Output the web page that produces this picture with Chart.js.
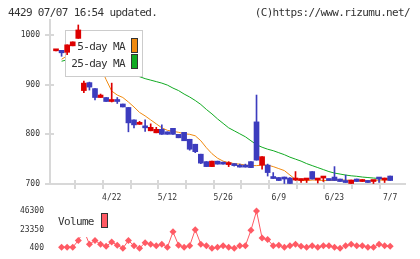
<!DOCTYPE html>
<html lang="ja">
<head>
<meta charset="UTF-8" />
<title>4429 chart</title>
<script src="https://cdn.jsdelivr.net/npm/chart.js@4.4.1/dist/chart.umd.min.js"></script>
<style>
  body { margin:0; background:#fff; font-family:"DejaVu Sans Mono", monospace; color:#333; }
  #wrap { position:relative; width:420px; height:259px; overflow:hidden; }
  #main_chart { position:absolute; left:0; top:0; }
  #vol_chart { position:absolute; left:0; top:200px; }
  .txt { position:absolute; font-size:11px; letter-spacing:-0.65px; white-space:nowrap; line-height:12px; color:#333; }
  .sw { position:absolute; box-sizing:border-box; border:1px solid #333; }
</style>
</head>
<body>
<div id="wrap">
  <canvas id="main_chart" width="420" height="205"></canvas>
  <canvas id="vol_chart" width="420" height="59"></canvas>
  <div class="txt" style="left:8px; top:7px;">4429 07/07 16:54 updated.</div>
  <div class="txt" style="right:10px; top:7px;">(C)https://www.rizumu.net/</div>
  <div class="txt" style="right:295px; top:41px;">5-day MA</div>
  <div class="txt" style="right:295px; top:58px;">25-day MA</div>
  <div class="sw" style="left:131px; top:38px; width:7px; height:15px; background:#f08a10;"></div>
  <div class="sw" style="left:131px; top:54px; width:7px; height:15px; background:#11aa22;"></div>
  <div class="txt" style="left:58px; top:216px;">Volume</div>
  <div class="sw" style="left:101px; top:213px; width:7px; height:15px; background:#ff5a64;"></div>
</div>
<script>
// ---- data ----
const tickIdx = [10, 20, 30, 40, 50, 60];
const tickLabels = ['4/22', '5/12', '5/26', '6/9', '6/23', '7/7'];
const priceTicks = [700, 800, 900, 1000];
const volTicks = [400, 23350, 46300];

const opens = [968, 969, 965, 978, 993, 888, 904, 892, 874, 874,
  866, 868, 861, 854, 829, 820, 815, 807, 803, 810,
  805, 812, 800, 804, 790, 780, 760, 745, 735, 746,
  744, 739, 740, 736, 736, 745, 825, 738, 738, 715,
  713, 714, 712, 708, 707, 708, 725, 708, 712, 710,
  714, 710, 707, 701, 710, 705, 707, 705, 712, 708, 716];
const highs = [970, 969, 980, 986, 1020, 907, 905, 892, 881, 874,
  903, 874, 861, 854, 829, 826, 829, 821, 814, 819,
  805, 812, 800, 804, 790, 780, 760, 745, 746, 746,
  744, 745, 741, 740, 740, 745, 879, 755, 740, 723,
  713, 714, 713, 725, 710, 710, 725, 710, 714, 710,
  735, 710, 718, 708, 710, 709, 707, 707, 712, 712, 716];
const lows = [968, 957, 960, 978, 993, 884, 889, 869, 874, 866,
  865, 862, 855, 805, 813, 820, 806, 807, 803, 800,
  800, 800, 793, 787, 768, 763, 741, 735, 735, 740,
  740, 735, 736, 734, 734, 733, 748, 730, 716, 711,
  707, 701, 701, 707, 703, 703, 710, 702, 705, 707,
  707, 705, 703, 701, 705, 705, 703, 701, 703, 703, 707];
const closes = [970, 964, 980, 986, 1010, 903, 895, 874, 879, 866,
  867, 866, 855, 823, 819, 822, 813, 814, 810, 800,
  800, 800, 793, 787, 770, 765, 742, 735, 746, 740,
  740, 741, 737, 734, 734, 733, 748, 755, 723, 711,
  707, 710, 701, 710, 710, 710, 710, 710, 714, 707,
  707, 705, 703, 708, 705, 707, 703, 707, 710, 710, 707];

const ma5 = [null, 951, 958, 966, 975, 976, 968, 955, 935, 910,
  887, 879, 874, 865, 855, 844, 837, 829, 821, 813,
  808, 806, 804, 801, 800, 797, 787, 773, 761, 752,
  746, 743, 741, 740, 738, 737, 737, 738, 738, 735,
  731, 727, 718, 709, 707, 707, 708, 708, 707, 707,
  708, 708, 708, 707, 707, 707, 707, 707, 708, 708, 709];
const ma25 = [null, 947, 950, 952, 955, 953, 950, 946, 942, 938,
  934, 930, 926, 922, 918, 916, 912, 909, 906, 903,
  899, 893, 888, 881, 875, 868, 860, 850, 841, 831,
  822, 813, 807, 801, 795, 787, 779, 774, 770, 767,
  763, 759, 754, 750, 746, 741, 737, 733, 729, 725,
  722, 720, 718, 716.5, 715.5, 714, 713, 712, 711, 710.5, 710];
const volume = [null, 1540, 1540, 1540, 9850, 22000, 5300, 9850, 5300, 2680,
  7920, 4160, 300, 9850, 3360, 400, 7230, 5300, 3360, 5300,
  1540, 20450, 4160, 1540, 3360, 23180, 5300, 3360, 400, 1540,
  3360, 1540, 300, 3360, 3360, 22400, 46000, 12900, 11000, 3360,
  4160, 1540, 3360, 5300, 2680, 1540, 3360, 1540, 3360, 3360,
  1540, 300, 3360, 5300, 3360, 3360, 1540, 1540, 5300, 3360, 2680];

const UP = '#dd0000';
const DOWN = '#3c3cbe';
const candleColors = closes.map((c, i) => c >= opens[i] ? UP : DOWN);
const xy = arr => arr.map((v, i) => ({x: i, y: v}));

Chart.defaults.font.family = 'DejaVu Sans Mono';
Chart.defaults.font.size = 8;
Chart.defaults.color = '#333';

// white legend box drawn over the MA lines but under the candles
const legendBox = {
  id: 'legendBox',
  beforeDatasetDraw(chart, args) {
    if (args.index !== 2) return;
    const ctx = chart.ctx;
    ctx.save();
    ctx.fillStyle = '#fff';
    ctx.fillRect(65, 30, 78, 47);
    ctx.strokeStyle = '#cccccc';
    ctx.lineWidth = 1;
    ctx.strokeRect(65.5, 30.5, 77, 46);
    ctx.restore();
  }
};

// small tick marks that cross the axis lines
const crossTicks = {
  id: 'crossTicks',
  beforeDatasetsDraw(chart) {
    const {ctx, chartArea: a, scales: {y, xg}} = chart;
    ctx.save();
    ctx.strokeStyle = '#d8d8d8';
    ctx.lineWidth = 2;
    y.ticks.forEach(t => {
      const py = Math.round(y.getPixelForValue(t.value));
      ctx.beginPath(); ctx.moveTo(a.left - 5, py); ctx.lineTo(a.left + 4, py); ctx.stroke();
    });
    for (let v = 0; v <= 11; v++) {
      const px = Math.round(xg.getPixelForValue(v));
      ctx.beginPath(); ctx.moveTo(px, a.bottom - 4); ctx.lineTo(px, a.bottom + 5); ctx.stroke();
    }
    ctx.restore();
  }
};

new Chart(document.getElementById('main_chart'), {
  type: 'bar',
  data: {
    datasets: [
      { type: 'line', label: '5-day MA', data: xy(ma5), borderColor: '#f08a10', borderWidth: 1, pointRadius: 0, order: 10 },
      { type: 'line', label: '25-day MA', data: xy(ma25), borderColor: '#11aa22', borderWidth: 1, pointRadius: 0, order: 11 },
      { label: 'wick', data: lows.map((l, i) => ({x: i, y: [l, highs[i]]})), backgroundColor: candleColors,
        barThickness: 1, grouped: false, order: 2 },
      { label: 'body', data: opens.map((o, i) => ({x: i, y: [o, closes[i]]})), backgroundColor: candleColors,
        barThickness: 5, minBarLength: 2, grouped: false, order: 1 }
    ]
  },
  options: {
    responsive: false,
    animation: false,
    layout: { padding: { left: 0, right: 15, top: 20, bottom: 0 } },
    plugins: { legend: { display: false }, tooltip: { enabled: false } },
    scales: {
      x: {
        type: 'linear', min: -1.08, max: 62.66, offset: false,
        grid: { display: false, drawTicks: false },
        border: { display: true, color: '#d8d8d8', width: 2 },
        afterBuildTicks: s => { s.ticks = tickIdx.map(v => ({value: v})); },
        afterFit: s => { s.height = 21; },
        ticks: { padding: 9, autoSkip: false, maxRotation: 0, callback: v => tickLabels[tickIdx.indexOf(v)] }
      },
      xg: { type: 'linear', min: 0, max: 11, display: false },
      y: {
        min: 700, max: 1030,
        grid: { display: false, drawTicks: false },
        border: { display: true, color: '#d8d8d8', width: 2 },
        afterBuildTicks: s => { s.ticks = priceTicks.map(v => ({value: v})); },
        afterFit: s => { s.width = 50; },
        ticks: { padding: 10, callback: v => String(v) }
      }
    }
  },
  plugins: [legendBox, crossTicks]
});

// white box under the "Volume" legend
const volBox = {
  id: 'volBox',
  afterDatasetsDraw(chart) {
    const ctx = chart.ctx;
    ctx.save();
    ctx.fillStyle = '#fff';
    ctx.fillRect(56, 10, 52, 27);
    ctx.restore();
  }
};

new Chart(document.getElementById('vol_chart'), {
  type: 'line',
  data: {
    datasets: [{
      label: 'Volume', data: xy(volume),
      borderColor: '#ff5a64', backgroundColor: '#ff5a64', borderWidth: 1,
      pointStyle: 'rectRot', pointRadius: 3.5, pointBorderWidth: 0, clip: false
    }]
  },
  options: {
    responsive: false,
    animation: false,
    layout: { padding: { left: 0, right: 15, top: 9, bottom: 9.7 } },
    plugins: { legend: { display: false }, tooltip: { enabled: false } },
    scales: {
      x: { type: 'linear', min: -1.08, max: 62.66, display: false },
      y: {
        min: 400, max: 46300,
        grid: { display: false, drawTicks: false },
        border: { display: false },
        afterBuildTicks: s => { s.ticks = volTicks.map(v => ({value: v})); },
        afterFit: s => { s.width = 50; },
        ticks: { padding: 6, callback: v => String(v) }
      }
    }
  },
  plugins: [volBox]
});
</script>
</body>
</html>
